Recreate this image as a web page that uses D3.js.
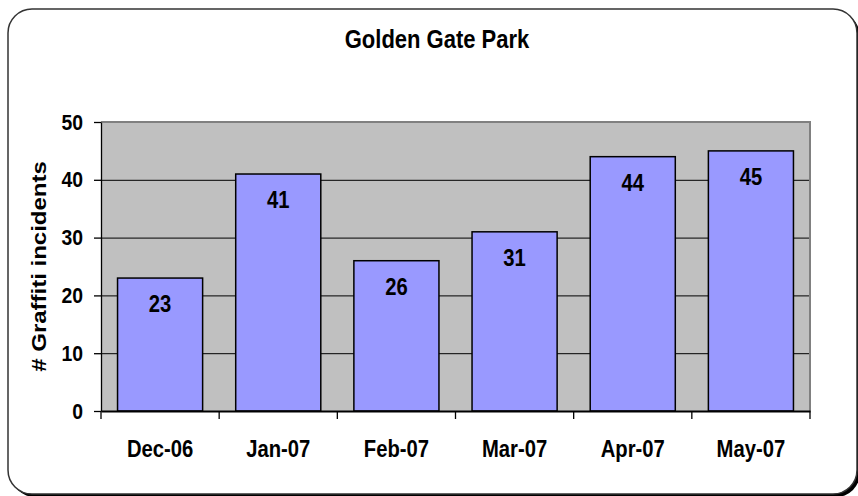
<!doctype html>
<html lang="en">
<head>
  <meta charset="UTF-8">
  <title>Golden Gate Park</title>
  <style type="text/css">
    * { padding: 0; margin: 0; }
    body { background: #fff; }
    svg text {
      font-family: "Liberation Sans", Arial, sans-serif;
      font-weight: bold;
      fill: #000;
    }
  </style>
  <script src="https://cdn.jsdelivr.net/npm/d3@7"></script>
</head>
<body>
  <svg width="858" height="496"></svg>
  <script>
    var months = ["Dec-06", "Jan-07", "Feb-07", "Mar-07", "Apr-07", "May-07"];
    var incidents = [23, 41, 26, 31, 44, 45];
    var yTicks = [0, 10, 20, 30, 40, 50];

    var marge = { top: 122, bottom: 85, left: 101, right: 48 };
    var width = 858 - marge.left - marge.right;
    var height = 496 - marge.top - marge.bottom;
    var squeeze = 0.88; // text in the picture is a bit narrow

    var svg = d3.select("svg");

    // outer frame with shadow
    svg.append("rect")
      .attr("x", 11).attr("y", 12)
      .attr("width", 849).attr("height", 485)
      .attr("rx", 24).attr("ry", 24)
      .attr("fill", "#000");
    svg.append("rect")
      .attr("x", 8).attr("y", 9)
      .attr("width", 849).attr("height", 485)
      .attr("rx", 24).attr("ry", 24)
      .attr("fill", "#fff")
      .attr("stroke", "#333")
      .attr("stroke-width", 1.5);

    svg.append("text")
      .attr("transform", "translate(437,48) scale(" + squeeze + ",1)")
      .attr("text-anchor", "middle")
      .style("font-size", "25px")
      .text("Golden Gate Park");

    // rotated, so the narrowing acts on the glyph height
    svg.append("text")
      .attr("transform", "translate(46," + (marge.top + height / 2) + ") rotate(-90) scale(1," + squeeze + ")")
      .attr("text-anchor", "middle")
      .style("font-size", "24px")
      .text("# Graffiti incidents");

    var x = d3.scaleBand()
      .domain(months)
      .range([0, width])
      .paddingInner(0.28)
      .paddingOuter(0.14);

    var y = d3.scaleLinear()
      .domain([0, 50])
      .range([height, 0]);

    var g = svg.append("g")
      .attr("transform", "translate(" + marge.left + "," + marge.top + ")");

    g.append("rect")
      .attr("width", width)
      .attr("height", height)
      .attr("fill", "#C0C0C0");

    // gridlines
    g.append("g")
      .call(d3.axisLeft(y).tickValues(yTicks.slice(1, -1)).tickSize(-width).tickFormat(""))
      .call(function (s) {
        s.select(".domain").remove();
        s.selectAll("line").attr("stroke", "#000");
      });

    // top and right edge of the plot area
    g.append("path")
      .attr("d", "M0," + y(50) + "H" + width + "V" + height)
      .attr("fill", "none")
      .attr("stroke", "#808080")
      .attr("stroke-width", 2);

    g.selectAll(".bar")
      .data(incidents)
      .enter()
      .append("rect")
      .attr("class", "bar")
      .attr("x", function (d, i) { return x(months[i]); })
      .attr("y", function (d) { return y(d); })
      .attr("width", x.bandwidth())
      .attr("height", function (d) { return height - y(d); })
      .attr("fill", "#9999FF")
      .attr("stroke", "#000")
      .attr("stroke-width", 1.5);

    g.selectAll(".label")
      .data(incidents)
      .enter()
      .append("text")
      .attr("class", "label")
      .attr("text-anchor", "middle")
      .style("font-size", "23px")
      .attr("transform", function (d, i) {
        return "translate(" + (x(months[i]) + x.bandwidth() / 2) + "," + (y(d) + 34) + ") scale(" + squeeze + ",1)";
      })
      .text(function (d) { return d; });

    // y axis
    g.append("g")
      .call(d3.axisLeft(y).tickValues(yTicks).tickSize(7).tickSizeOuter(0).tickPadding(11))
      .call(function (s) {
        s.selectAll("path,line").attr("stroke", "#000").attr("stroke-width", 1.3);
        s.selectAll("text")
          .style("font-size", "22px")
          .attr("x", function () { return +this.getAttribute("x") / squeeze; })
          .attr("transform", "scale(" + squeeze + ",1)");
      });

    // x axis: labels in the bands, ticks on the band edges
    var edges = months.map(function (m) {
      return x(m) - (x.step() - x.bandwidth()) / 2;
    }).concat([width]);

    g.append("g")
      .attr("transform", "translate(0," + height + ")")
      .call(d3.axisBottom(x).tickSize(0).tickSizeOuter(0).tickPadding(30))
      .call(function (s) {
        s.select(".domain").attr("stroke", "#000").attr("stroke-width", 2);
        s.selectAll("text")
          .style("font-size", "23px")
          .attr("transform", "scale(" + squeeze + ",1)");
      })
      .selectAll(".edge")
      .data(edges)
      .enter()
      .append("line")
      .attr("class", "edge")
      .attr("x1", function (d) { return d; })
      .attr("x2", function (d) { return d; })
      .attr("y1", 0)
      .attr("y2", 8)
      .attr("stroke", "#000")
      .attr("stroke-width", 1.3);
  </script>
</body>
</html>
